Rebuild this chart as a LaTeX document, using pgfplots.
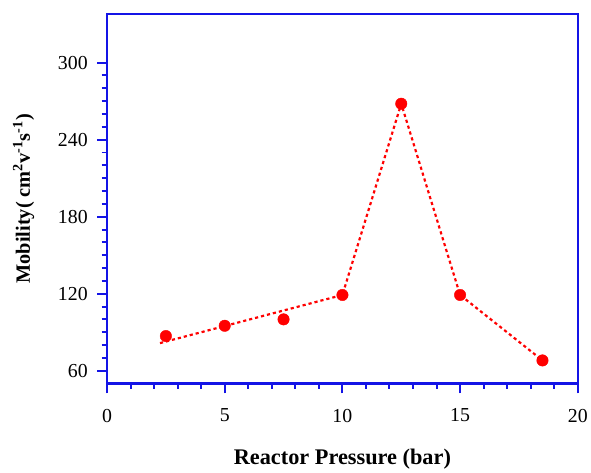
\documentclass[border=0pt]{standalone}
\usepackage{pgfplots}
\pgfplotsset{compat=1.18}
\usepackage{fontspec}
\setmainfont{Liberation Serif}
\definecolor{axblue}{RGB}{20,20,230}
\definecolor{ptred}{RGB}{255,0,0}

\begin{document}
\begin{tikzpicture}
\begin{axis}[
  name=ax,
  scale only axis, width=475pt, height=373pt,
  xmin=0, xmax=20, ymin=50, ymax=338,
  xtick={0,5,10,15,20}, ytick={60,120,180,240,300},
  minor x tick num=4, minor y tick num=5,
  tick pos=left, tick align=outside,
  major tick length=10pt, minor tick length=5.5pt,
  axis line style={axblue, line width=2.4pt},
  every tick/.style={axblue, line width=2pt},
  /pgf/number format/assume math mode=true,
  ticklabel style={font=\fontsize{20}{24}\selectfont},
  xticklabel style={yshift=-12pt},
  yticklabel style={xshift=-6pt},
  xlabel={Reactor Pressure (bar)},
  ylabel={Mobility( cm\textsuperscript{2}v\textsuperscript{-1}s\textsuperscript{-1})},
  xlabel style={font=\fontsize{22.5}{26}\selectfont\bfseries, yshift=-20pt},
  ylabel style={font=\fontsize{20.5}{24}\selectfont\bfseries, yshift=17pt},
]
% dotted guide: linear trend up to 10 bar, then joined points
\addplot[ptred, line width=2.2pt, dash pattern=on 3.2pt off 3pt] coordinates {
  (2.25,81.5) (10,119) (12.5,268) (15,119) (18.5,68)};
\addplot[only marks, mark=*, mark size=5.8pt, ptred, mark options={draw=ptred, fill=ptred}] coordinates {
  (2.5,87) (5,95) (7.5,100) (10,119) (12.5,268) (15,119) (18.5,68)};
\end{axis}
\path[use as bounding box] ([xshift=-108pt,yshift=-80pt]ax.south west) rectangle ([xshift=8pt,yshift=14pt]ax.north east);
\end{tikzpicture}
\end{document}
